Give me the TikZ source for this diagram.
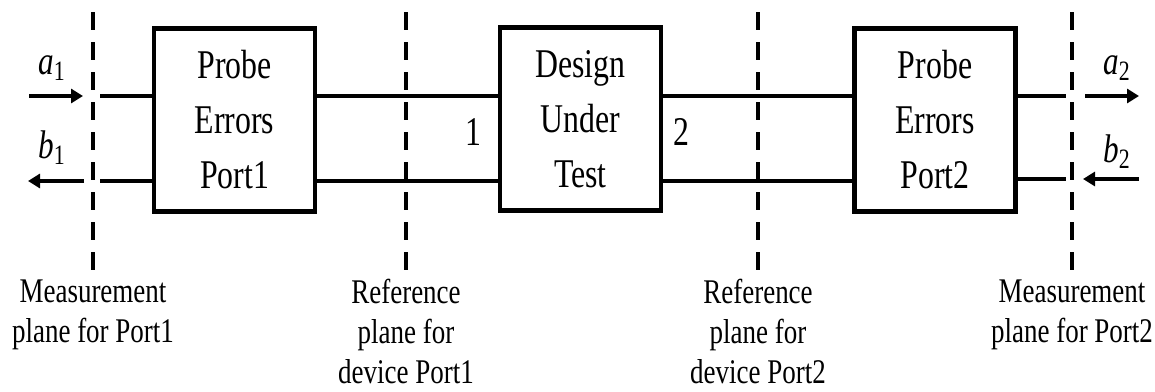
\documentclass[tikz,border=0pt]{standalone}
\usepackage{fontspec}
\setmainfont[FakeStretch=0.78]{Liberation Serif}
\usepackage{tikz}
\usetikzlibrary{positioning, arrows.meta}

\tikzset{
  blk/.style={draw, line width=2.2pt, minimum width=80.5pt, minimum height=91.5pt,
    align=center, inner sep=0pt, font=\fontsize{20.4}{27.5}\selectfont},
  wire/.style={line width=2.2pt},
  sig/.style={line width=2.2pt, -{Triangle[length=6pt,width=7pt]}},
  plane/.style={line width=1.8pt, dash pattern=on 9pt off 6pt},
  planelbl/.style={anchor=north, align=center, inner sep=0pt,
    font=\fontsize{17.3}{20}\selectfont},
  wave/.style={inner sep=0pt, font=\fontsize{20}{22}\selectfont},
  portnum/.style={inner sep=0pt, font=\fontsize{20.4}{24}\selectfont}
}

\begin{document}
\begin{tikzpicture}[x=0.5pt, y=-0.5pt]
        \useasboundingbox (0,0) rectangle (1155,391);
        % the three blocks
        \node[blk] (pe1) at (234.5,120) {Probe\\Errors\\Port1};
        \node[blk] (dut) at (580.5,119) {Design\\Under\\Test};
        \node[blk] (pe2) at (935,120) {Probe\\Errors\\Port2};
        \node[portnum, left=8pt of dut.west, yshift=-6.5pt] (n1) {1};
        \node[portnum, right=5pt of dut.east, yshift=-6.5pt] (n2) {2};

        % line levels
        \coordinate (top) at (0,96);
        \coordinate (bot) at (0,181);

        % planes
        \coordinate (pl1a) at (93,12);   \coordinate (pl1b) at (93,275);
        \coordinate (pl2a) at (406,12);  \coordinate (pl2b) at (406,275);
        \coordinate (pl3a) at (758,12);  \coordinate (pl3b) at (758,275);
        \coordinate (pl4a) at (1072,12); \coordinate (pl4b) at (1072,275);
        \draw[plane] (pl1a) -- (pl1b);
        \draw[plane] (pl2a) -- (pl2b);
        \draw[plane] (pl3a) -- (pl3b);
        \draw[plane] (pl4a) -- (pl4b);
        \node[planelbl, below=2pt of pl1b] (lbl1) {Measurement\\plane for Port1};
        \node[planelbl, below=2pt of pl2b] (lbl2) {Reference\\plane for\\device Port1};
        \node[planelbl, below=2pt of pl3b] (lbl3) {Reference\\plane for\\device Port2};
        \node[planelbl, below=2pt of pl4b] (lbl4) {Measurement\\plane for Port2};

        % lines between blocks
        \draw[wire] (pe1.east |- top) -- (dut.west |- top);
        \draw[wire] (pe1.east |- bot) -- (dut.west |- bot);
        \draw[wire] (dut.east |- top) -- (pe2.west |- top);
        \draw[wire] (dut.east |- bot) -- (pe2.west |- bot);

        % port 1 side
        \coordinate (m1t) at (100,96);  \coordinate (m1b) at (100,181);
        \draw[wire] (m1t) -- (m1t -| pe1.west);
        \draw[wire] (m1b) -- (m1b -| pe1.west);
        \coordinate (a1s) at (29,96);   \coordinate (a1e) at (83,96);
        \coordinate (b1s) at (84,181);  \coordinate (b1e) at (28,181);
        \draw[sig] (a1s) -- (a1e);
        \draw[sig] (b1s) -- (b1e);
        \node[wave] (a1) at (52,68) {\textit{a}\textsubscript{1}};
        \node[wave] (b1) at (52,148) {\textit{b}\textsubscript{1}};

        % port 2 side
        \coordinate (m2t) at (1066,96); \coordinate (m2b) at (1066,179);
        \draw[wire] (pe2.east |- m2t) -- (m2t);
        \draw[wire] (pe2.east |- m2b) -- (m2b);
        \coordinate (a2s) at (1085,96);  \coordinate (a2e) at (1139,96);
        \coordinate (b2s) at (1139,179); \coordinate (b2e) at (1083,179);
        \draw[sig] (a2s) -- (a2e);
        \draw[sig] (b2s) -- (b2e);
        \node[wave] (a2) at (1117,68) {\textit{a}\textsubscript{2}};
        \node[wave] (b2) at (1117,152) {\textit{b}\textsubscript{2}};
      \end{tikzpicture}
\end{document}
